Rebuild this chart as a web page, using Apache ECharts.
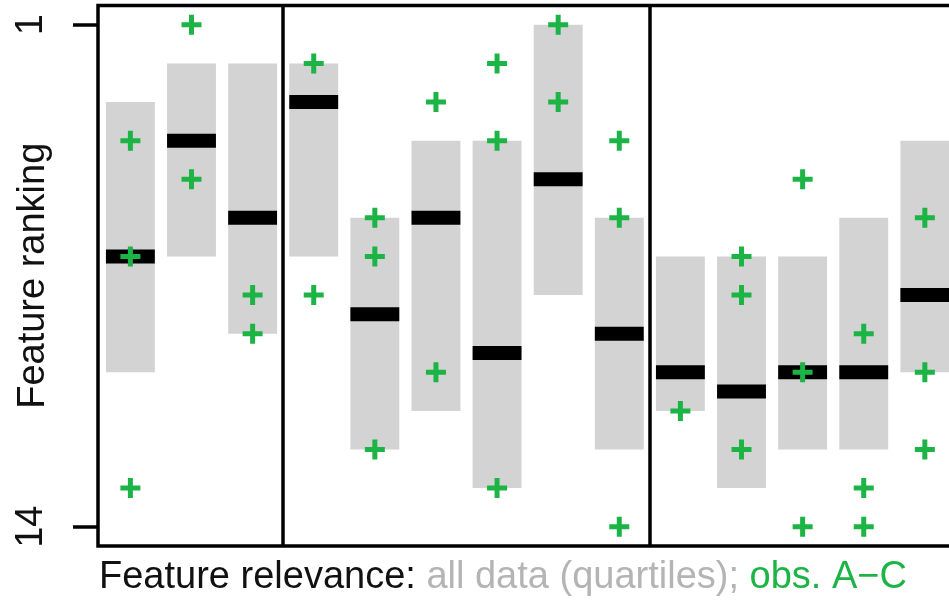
<!DOCTYPE html>
<html>
<head>
<meta charset="utf-8">
<script src="https://cdn.jsdelivr.net/npm/echarts@6/dist/echarts.min.js"></script>
<style>
html,body{margin:0;padding:0;background:#fff;}
#chart{width:949px;height:600px;}
</style>
</head>
<body>
<div id="chart"></div>
<script>
// Feature positions (x) and quartile boxes (ranks, 1 = best)
const features = [1, 2, 3, 4, 5, 6, 7, 8, 9, 10, 11, 12, 13, 14];
const upperQuartile = [3, 2, 2, 2, 6, 4, 4, 1, 6, 7, 7, 7, 6, 4];
const lowerQuartile = [10, 7, 9, 7, 12, 11, 13, 8, 12, 11, 13, 12, 12, 10];
const medianRank = [7, 4, 6, 3, 8.5, 6, 9.5, 5, 9, 10, 10.5, 10, 10, 8];
// Observed ranks of observations A-C per feature
const obsRanks = [
  [4, 7, 13], [1, 5], [8, 9], [2, 8], [6, 7, 12], [3, 10], [2, 4, 13],
  [1, 3], [4, 6, 14], [11], [7, 8, 12], [5, 10, 14], [9, 13, 14], [6, 10, 12]
];
// Group separators and y tick labels
const groupSeparators = [3.5, 9.5];
const yTicks = [1, 14];

const boxData = features.map((f, i) => [f, upperQuartile[i], lowerQuartile[i], medianRank[i]]);
const obsData = [];
features.forEach((f, i) => obsRanks[i].forEach(r => obsData.push([f, r])));

const GREEN = '#1db446';
const FONT = 'Liberation Sans';
const plusPath = 'path://M0,7.5 H7.5 V0 H12.5 V7.5 H20 V12.5 H12.5 V20 H7.5 V12.5 H0 Z';

const chart = echarts.init(document.getElementById('chart'));
chart.setOption({
  animation: false,
  backgroundColor: '#fff',
  title: {
    left: 99,
    top: 559,
    padding: 0,
    text: '{a|Feature relevance:} {b|all data (quartiles);} {c|obs. A\u2212C}',
    textStyle: {
      fontFamily: FONT, fontSize: 38, fontWeight: 'normal', color: '#111', lineHeight: 38,
      rich: {
        a: {fontFamily: FONT, fontSize: 38, color: '#111', lineHeight: 38},
        b: {fontFamily: FONT, fontSize: 38, color: '#b4b4b4', lineHeight: 38},
        c: {fontFamily: FONT, fontSize: 38, color: GREEN, lineHeight: 38}
      }
    }
  },
  grid: {
    left: 98, right: -6.4, top: 5.5, bottom: 54,
    show: true, borderColor: '#000', borderWidth: 3.5, backgroundColor: 'transparent',
    containLabel: false, outerBoundsMode: 'none'
  },
  xAxis: {
    type: 'value', min: 0.47, max: 14.5,
    axisLine: {show: false}, axisTick: {show: false}, axisLabel: {show: false}, splitLine: {show: false}
  },
  yAxis: {
    type: 'value', inverse: true, min: 0.5, max: 14.5,
    name: 'Feature ranking', nameLocation: 'middle', nameGap: 45, nameMoveOverlap: false,
    nameTextStyle: {fontFamily: FONT, fontSize: 38, color: '#111'},
    axisLine: {show: false},
    axisTick: {show: true, customValues: yTicks, length: 25, lineStyle: {color: '#000', width: 3.5}},
    axisLabel: {show: true, customValues: yTicks, rotate: 90, margin: 47, fontFamily: FONT, fontSize: 38, color: '#111'},
    splitLine: {show: false}
  },
  series: [
    {
      type: 'custom',
      data: boxData,
      silent: true,
      z: 2,
      renderItem: function (params, api) {
        const x = api.value(0), lo = api.value(1), hi = api.value(2), med = api.value(3);
        const w = api.size([0.8, 0])[0];
        const p1 = api.coord([x, lo]);
        const p2 = api.coord([x, hi]);
        const pm = api.coord([x, med]);
        return {
          type: 'group',
          children: [
            {type: 'rect', shape: {x: p1[0] - w / 2, y: Math.min(p1[1], p2[1]), width: w, height: Math.abs(p2[1] - p1[1])}, style: {fill: '#d3d3d3'}},
            {type: 'rect', shape: {x: pm[0] - w / 2, y: pm[1] - 7, width: w, height: 14}, style: {fill: '#000'}}
          ]
        };
      },
      markLine: {
        silent: true,
        symbol: ['none', 'none'],
        label: {show: false},
        lineStyle: {color: '#000', width: 3.5, type: 'solid'},
        data: groupSeparators.map(v => ({xAxis: v}))
      }
    },
    {
      type: 'scatter',
      data: obsData,
      symbol: plusPath,
      symbolSize: 20,
      itemStyle: {color: GREEN, opacity: 1},
      silent: true,
      z: 5
    }
  ]
});
</script>
</body>
</html>
